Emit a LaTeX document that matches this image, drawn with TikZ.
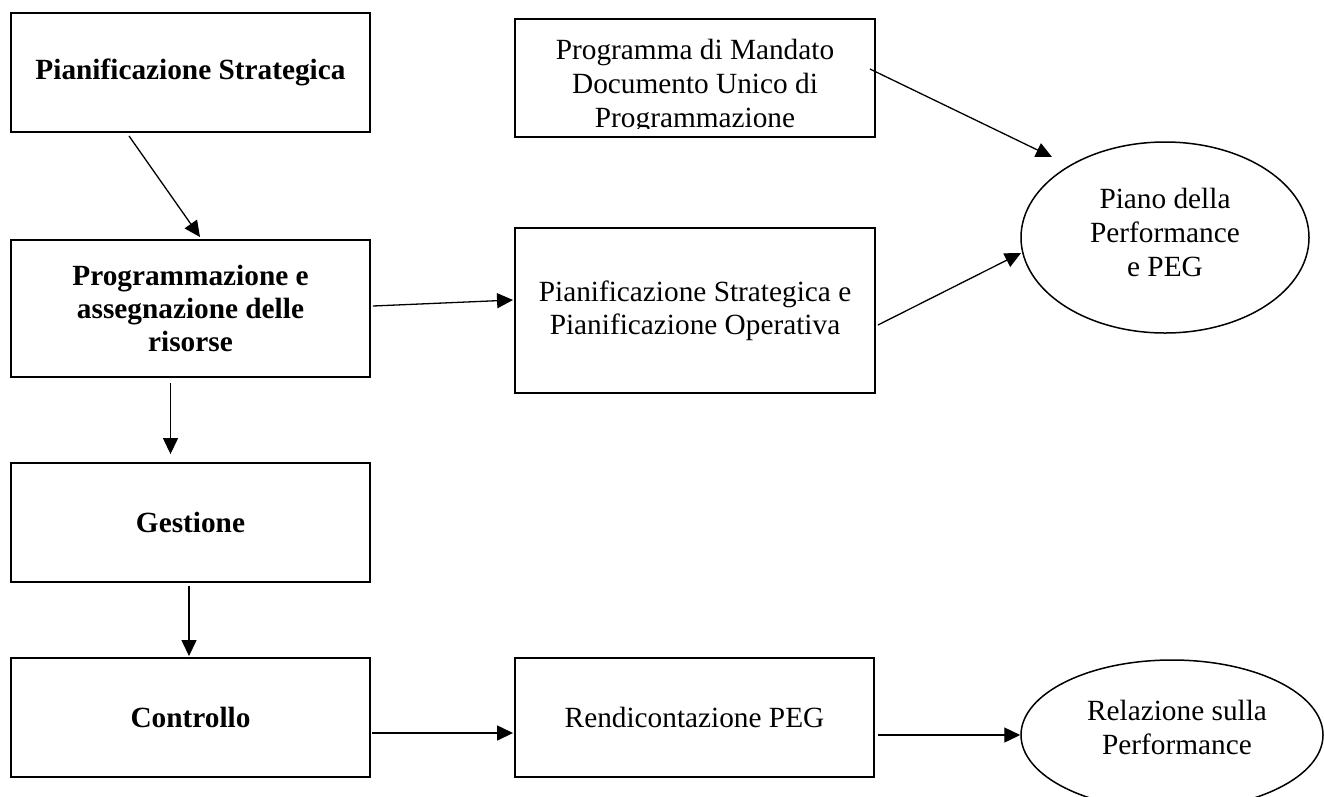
\documentclass[tikz,border=0pt]{standalone}
\usepackage{fontspec}
\setmainfont{Liberation Serif}
\usetikzlibrary{arrows.meta,shapes.geometric,calc}
\begin{document}
\begin{tikzpicture}[x=1pt,y=-1pt,
  box/.style={draw,line width=1.9pt,inner sep=0pt,align=center,font=\fontsize{29.3}{33}\selectfont},
  bbox/.style={box,font=\fontsize{29.3}{33}\selectfont\bfseries},
  oval/.style={draw,ellipse,line width=1.5pt,inner sep=0pt},
  txt/.style={inner sep=0pt,align=center,font=\fontsize{29.3}{34}\selectfont},
  arr/.style={-{Triangle[length=16pt,width=15pt]},line width=1.3pt}]
\clip (0,0) rectangle (1324,796);
\fill[white] (0,0) rectangle (1324,796);
% left column
\node[bbox,minimum width=359pt,minimum height=119pt] (plan) at (190.5,72.5) {Pianificazione Strategica};
\node[bbox,minimum width=359pt,minimum height=137pt] (prog2) at (190.5,308.5) {Programmazione e\\assegnazione delle\\risorse};
\node[bbox,minimum width=359pt,minimum height=119pt] (gest) at (190.5,522.5) {Gestione};
\node[bbox,minimum width=359pt,minimum height=119pt] (ctrl) at (190.5,717.5) {Controllo};
% middle column
\node[box,minimum width=360pt,minimum height=118pt] (prog) at (695,78) {};
\begin{scope}
\clip (515,19) rectangle (875,128);
\node[txt,anchor=north] (progtext) at (695,38.5) {Programma di Mandato\\Documento Unico di\\Programmazione};
\end{scope}
\node[box,minimum width=360pt,minimum height=165pt] (pso) at (695,310.5) {Pianificazione Strategica e\\Pianificazione Operativa};
\node[box,minimum width=359pt,minimum height=119pt] (rend) at (694.5,717.5) {Rendicontazione PEG};
% right column
\node[oval,minimum width=288pt,minimum height=191pt] (piano) at (1165,237.5) {};
\node[txt] (pianotext) at (1165,232) {Piano della\\Performance\\e PEG};
\node[oval,minimum width=302pt,minimum height=150pt] (rel) at (1172,735) {};
\node[txt] (reltext) at (1177,727) {Relazione sulla\\Performance};
% connectors
\draw[arr] ($(plan.south)+(-61.5,3)$) -- ($(prog2.north)+(9.5,-2)$);
\draw[arr] ($(prog2.south)+(-20,5)$) -- ($(gest.north)+(-20,-8)$);
\draw[arr] ($(gest.south)+(-1.5,3)$) -- ($(ctrl.north)+(-1.5,-1)$);
\draw[arr] ($(prog2.east)+(2,-2.5)$) -- ($(pso.west)+(-1,-10.5)$);
\draw[arr] ($(ctrl.east)+(1,15.5)$) -- ($(rend.west)+(-1,15.5)$);
\draw[arr] ($(rend.east)+(3,17.5)$) -- (rel.west);
\draw[arr] ($(prog.east)+(-6,-9)$) -- ($(piano.center)+(-113,-80.5)$);
\draw[arr] ($(pso.east)+(2,14.5)$) -- ($(piano.center)+(-144,15.5)$);
\end{tikzpicture}
\end{document}
